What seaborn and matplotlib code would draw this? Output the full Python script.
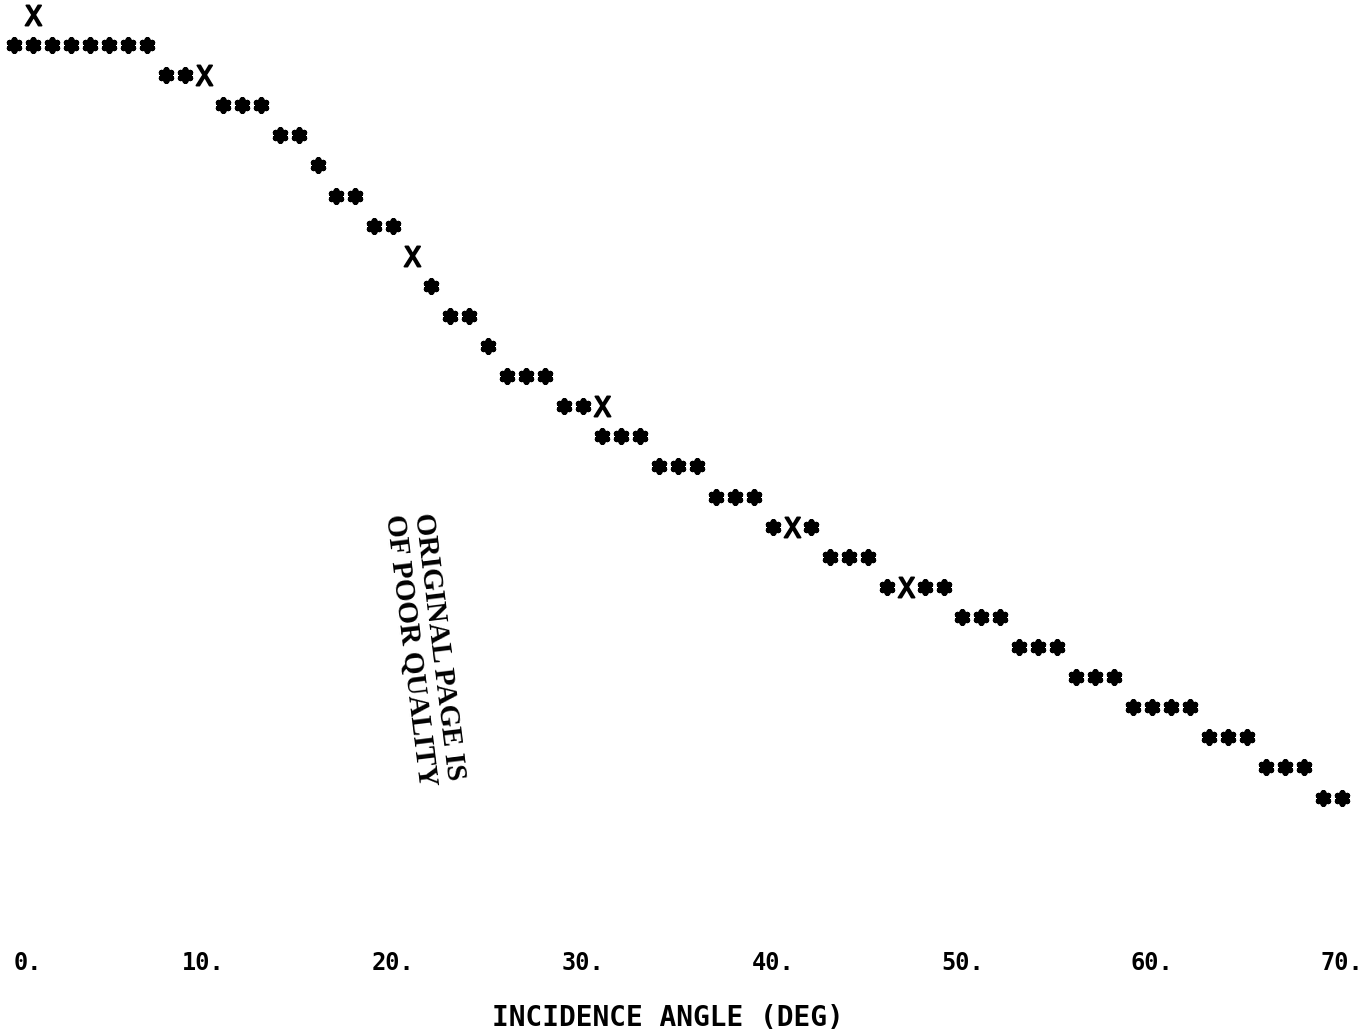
import numpy as np
import matplotlib
matplotlib.use("Agg")
import matplotlib.pyplot as plt
import seaborn as sns

sns.set_theme(style="white")
plt.rcParams['font.family'] = ['DejaVu Sans Mono', 'DejaVu Sans']
plt.rcParams['text.color'] = 'black'
plt.rcParams['xtick.color'] = 'black'
plt.rcParams['axes.labelcolor'] = 'black'

# printer-plot curve: incidence angle (deg) and print row of each '*'
curve_angle = [0, 1, 2, 3, 4, 5, 6, 7,
               8, 9,
               11, 12, 13,
               14, 15,
               16,
               17, 18,
               19, 20,
               22,
               23, 24,
               25,
               26, 27, 28,
               29, 30,
               31, 32, 33,
               34, 35, 36,
               37, 38, 39,
               40, 42,
               43, 44, 45,
               46, 48, 49,
               50, 51, 52,
               53, 54, 55,
               56, 57, 58,
               59, 60, 61, 62,
               63, 64, 65,
               66, 67, 68,
               69, 70]
curve_row = [1, 1, 1, 1, 1, 1, 1, 1,
             2, 2,
             3, 3, 3,
             4, 4,
             5,
             6, 6,
             7, 7,
             9,
             10, 10,
             11,
             12, 12, 12,
             13, 13,
             14, 14, 14,
             15, 15, 15,
             16, 16, 16,
             17, 17,
             18, 18, 18,
             19, 19, 19,
             20, 20, 20,
             21, 21, 21,
             22, 22, 22,
             23, 23, 23, 23,
             24, 24, 24,
             25, 25, 25,
             26, 26]

# measured points printed as 'X'
meas_angle = [1, 10, 21, 31, 41, 47]
meas_row = [0, 2, 8, 13, 17, 19]

tick_values = [0, 10, 20, 30, 40, 50, 60, 70]
tick_labels = ["0.", "10.", "20.", "30.", "40.", "50.", "60.", "70."]

fig = plt.figure(figsize=(13.69, 10.36), dpi=100)
ax = fig.add_axes([0, 0.0927, 1, 0.9073])

sns.scatterplot(x=curve_angle, y=curve_row, ax=ax, marker=(6, 2, 0),
                s=62, color="black", linewidth=4.3, legend=False)
sns.scatterplot(x=meas_angle, y=meas_row, ax=ax, marker=r"$\mathtt{X}$",
                s=210, color="black", edgecolor="black", linewidth=1.3,
                legend=False)

ax.set_xlim(-0.738, 71.43)
ax.set_ylim(30.73, -0.495)
ax.set_xticks(tick_values)
ax.set_xticklabels(tick_labels, fontsize=17, fontweight="bold")
ax.get_xticklabels()[0].set_ha("left")
ax.set_yticks([])
ax.tick_params(axis="x", length=0, pad=8)
for sp in ax.spines.values():
    sp.set_visible(False)

ax.set_xlabel("INCIDENCE ANGLE (DEG)", fontsize=20, fontweight="bold")
ax.xaxis.set_label_coords(0.488, -0.083)
ax.xaxis.label.set_va("center")

# stamp on the scanned page
fig.text(0.31, 0.374, "ORIGINAL PAGE IS\nOF POOR QUALITY",
         family="Liberation Serif", fontweight="bold", fontsize=21,
         rotation=-83, rotation_mode="anchor", ha="center", va="center",
         linespacing=1.1, color="black")

fig.savefig("out.png", dpi=100, facecolor="white")
